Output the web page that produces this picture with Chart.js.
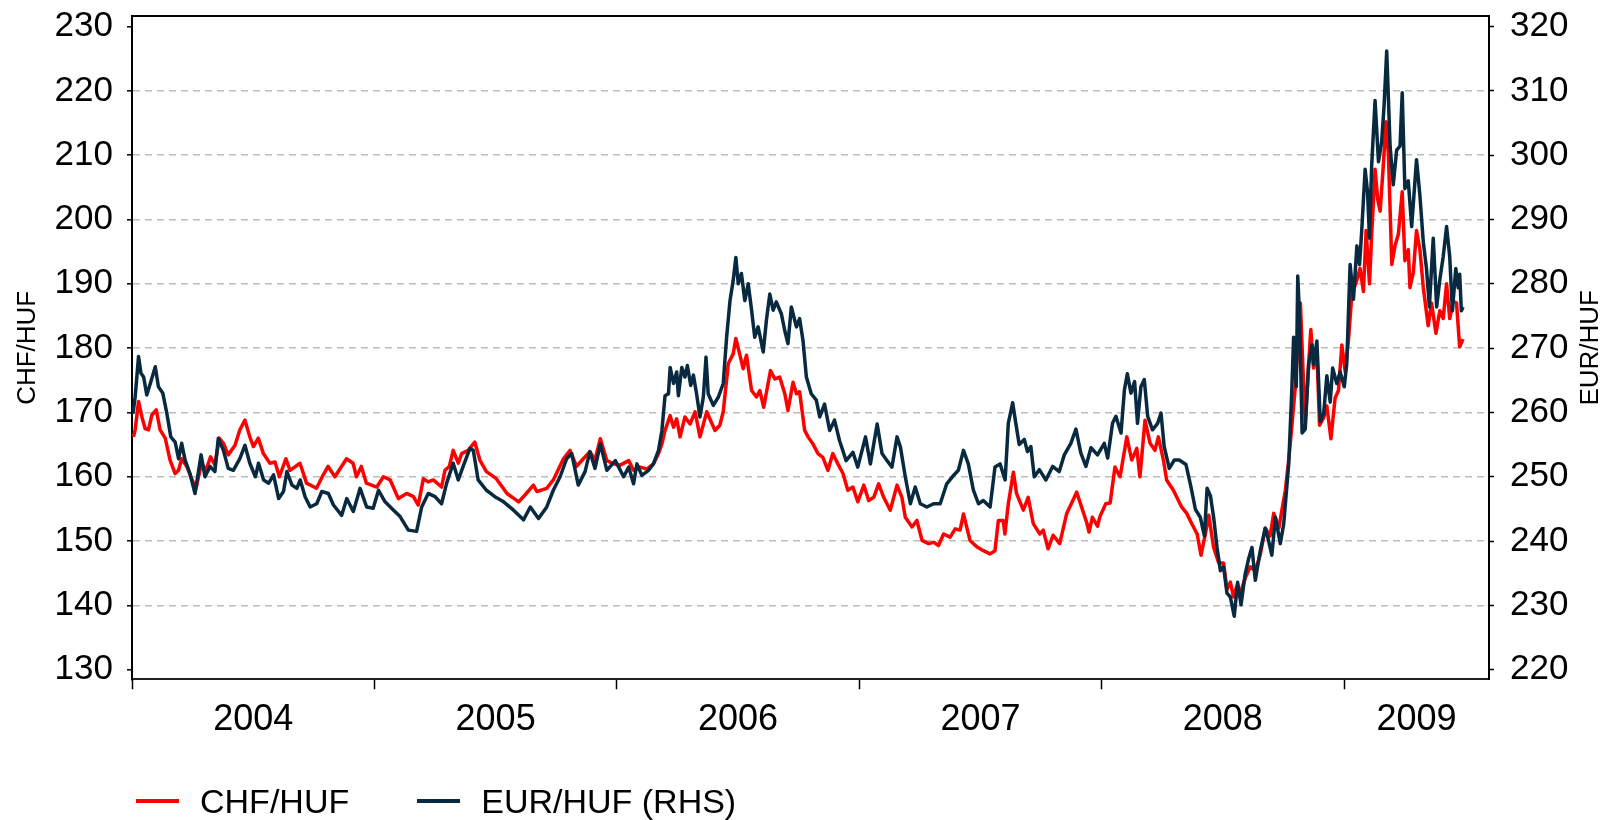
<!DOCTYPE html>
<html>
<head>
<meta charset="utf-8">
<title>CHF/HUF and EUR/HUF</title>
<script src="https://cdn.jsdelivr.net/npm/chart.js@4.4.1/dist/chart.umd.min.js"></script>
<style>
    body { margin: 0; background: #fff; }
    #wrap { position: relative; width: 1605px; height: 820px; }
    #legend {
        position: absolute; left: 136px; top: 781px; height: 40px;
        display: flex; align-items: center; gap: 68px;
        font-family: "Liberation Sans", Arial, sans-serif; font-size: 34px; color: #000;
    }
    .item { display: flex; align-items: center; gap: 21px; }
    .swatch { width: 43px; height: 4px; }
</style>
</head>
<body>
<div id="wrap">
    <canvas id="fxChart" width="1605" height="820"></canvas>
    <div id="legend"></div>
</div>
<script>
// Axis labels
const years = [2004, 2005, 2006, 2007, 2008, 2009];
const yearLabels = ["2004", "2005", "2006", "2007", "2008", "2009"];
const xEnd = 2009.598; // axis runs to early August 2009
const leftTicks = [130, 140, 150, 160, 170, 180, 190, 200, 210, 220, 230];
const rightTicks = [220, 230, 240, 250, 260, 270, 280, 290, 300, 310, 320];
const leftTitle = "CHF/HUF";
const rightTitle = "EUR/HUF";

// CHF/HUF (left axis) - dates as fractional years
const chfDates = [
    2004.006, 2004.013, 2004.027, 2004.041, 2004.054, 2004.068, 2004.082, 2004.100, 2004.116, 2004.137,
    2004.157, 2004.178, 2004.192, 2004.205, 2004.226, 2004.246, 2004.264, 2004.287, 2004.305, 2004.324,
    2004.342, 2004.360, 2004.377, 2004.397, 2004.425, 2004.445, 2004.466, 2004.486, 2004.501, 2004.521,
    2004.542, 2004.569, 2004.590, 2004.608, 2004.635, 2004.652, 2004.693, 2004.720, 2004.761, 2004.789,
    2004.809, 2004.837, 2004.885, 2004.912, 2004.926, 2004.946, 2004.967, 2005.010, 2005.037, 2005.065,
    2005.099, 2005.133, 2005.161, 2005.181, 2005.202, 2005.222, 2005.243, 2005.277, 2005.291, 2005.309,
    2005.325, 2005.346, 2005.360, 2005.387, 2005.414, 2005.435, 2005.462, 2005.503, 2005.547, 2005.595,
    2005.622, 2005.656, 2005.670, 2005.711, 2005.738, 2005.780, 2005.807, 2005.834, 2005.862, 2005.889,
    2005.910, 2005.932, 2005.959, 2005.987, 2006.014, 2006.049, 2006.069, 2006.096, 2006.124, 2006.151,
    2006.172, 2006.186, 2006.199, 2006.220, 2006.234, 2006.247, 2006.261, 2006.281, 2006.302, 2006.323,
    2006.343, 2006.371, 2006.405, 2006.425, 2006.439, 2006.460, 2006.480, 2006.491, 2006.508, 2006.521,
    2006.535, 2006.556, 2006.576, 2006.590, 2006.606, 2006.624, 2006.634, 2006.652, 2006.672, 2006.693,
    2006.706, 2006.727, 2006.741, 2006.754, 2006.775, 2006.789, 2006.809, 2006.830, 2006.850, 2006.871,
    2006.891, 2006.912, 2006.933, 2006.953, 2006.974, 2006.994, 2007.019, 2007.039, 2007.060, 2007.080,
    2007.101, 2007.128, 2007.156, 2007.176, 2007.190, 2007.218, 2007.238, 2007.259, 2007.286, 2007.307,
    2007.327, 2007.348, 2007.375, 2007.396, 2007.416, 2007.430, 2007.457, 2007.485, 2007.512, 2007.540,
    2007.560, 2007.574, 2007.594, 2007.601, 2007.615, 2007.636, 2007.649, 2007.677, 2007.697, 2007.718,
    2007.745, 2007.759, 2007.779, 2007.800, 2007.827, 2007.856, 2007.897, 2007.939, 2007.948, 2007.962,
    2007.983, 2007.993, 2008.017, 2008.035, 2008.055, 2008.076, 2008.104, 2008.124, 2008.145, 2008.158,
    2008.179, 2008.200, 2008.220, 2008.234, 2008.255, 2008.268, 2008.296, 2008.330, 2008.351, 2008.372,
    2008.394, 2008.410, 2008.428, 2008.442, 2008.462, 2008.483, 2008.503, 2008.517, 2008.531, 2008.544,
    2008.558, 2008.572, 2008.592, 2008.613, 2008.634, 2008.654, 2008.675, 2008.695, 2008.710, 2008.731,
    2008.744, 2008.758, 2008.772, 2008.785, 2008.799, 2008.809, 2008.820, 2008.831, 2008.840, 2008.854,
    2008.863, 2008.874, 2008.888, 2008.899, 2008.916, 2008.929, 2008.946, 2008.963, 2008.977, 2008.991,
    2009.005, 2009.018, 2009.032, 2009.053, 2009.066, 2009.080, 2009.091, 2009.105, 2009.114, 2009.128,
    2009.139, 2009.149, 2009.162, 2009.173, 2009.183, 2009.197, 2009.210, 2009.224, 2009.240, 2009.251,
    2009.265, 2009.272, 2009.286, 2009.299, 2009.313, 2009.327, 2009.347, 2009.361, 2009.379, 2009.395,
    2009.409, 2009.423, 2009.436, 2009.450, 2009.464, 2009.477, 2009.491
];
const chfValues = [
    166.2, 167.3, 171.7, 169.3, 167.5, 167.3, 169.6, 170.4, 167.3, 166.0,
    162.6, 160.5, 161.0, 162.8, 161.6, 159.7, 158.2, 162.1, 161.0, 163.1,
    161.8, 166.0, 165.2, 163.4, 164.9, 167.3, 168.8, 166.2, 164.7, 166.0,
    163.6, 162.1, 162.3, 160.0, 162.8, 161.0, 162.1, 159.0, 158.2, 160.3,
    161.6, 160.0, 162.8, 162.1, 160.0, 161.6, 159.0, 158.4, 160.0, 159.5,
    156.6, 157.4, 156.9, 155.6, 159.7, 159.2, 159.5, 158.4, 161.0, 161.6,
    164.1, 162.1, 163.6, 164.1, 165.4, 162.6, 160.8, 159.7, 157.4, 156.1,
    157.2, 158.7, 157.7, 158.2, 159.5, 162.8, 164.1, 161.6, 162.8, 163.9,
    162.6, 165.9, 162.5, 162.0, 161.8, 162.5, 161.0, 161.5, 161.2, 162.0,
    163.6, 165.1, 167.2, 169.5, 167.7, 169.0, 166.2, 169.3, 168.2, 170.1,
    166.2, 170.1, 167.2, 168.0, 170.1, 177.6, 179.1, 181.5, 178.9, 176.8,
    178.9, 173.4, 172.4, 173.4, 170.8, 174.5, 176.5, 175.2, 175.5, 172.9,
    170.3, 174.7, 172.9, 173.2, 167.2, 166.2, 165.1, 163.6, 163.0, 161.0,
    163.6, 162.0, 160.5, 157.9, 158.4, 156.1, 158.7, 156.3, 156.8, 158.9,
    156.8, 154.8, 158.7, 156.8, 153.7, 152.2, 153.2, 150.1, 149.6, 149.8,
    149.3, 151.1, 150.6, 151.9, 151.7, 154.2, 150.1, 149.1, 148.5, 148.0,
    148.5, 153.2, 153.2, 151.1, 155.8, 160.7, 157.4, 154.8, 156.8, 152.7,
    151.1, 151.7, 148.8, 150.9, 149.6, 154.3, 157.6, 152.8, 151.4, 153.7,
    152.3, 153.8, 155.8, 155.9, 161.5, 160.0, 166.2, 162.6, 164.4, 160.0,
    168.8, 165.2, 164.1, 166.2, 162.6, 159.5, 157.9, 155.3, 154.3, 152.7,
    151.1, 147.8, 151.1, 154.0, 149.0, 146.6, 146.6, 142.5, 143.6, 141.3,
    143.0, 141.9, 144.2, 146.0, 145.4, 147.8, 152.0, 150.8, 154.3, 152.0,
    154.9, 157.9, 162.7, 168.0, 174.0, 179.9, 187.0, 176.3, 168.6, 177.5,
    182.9, 176.9, 179.3, 168.0, 169.2, 171.0, 165.9, 172.2, 173.4, 180.5,
    176.3, 181.1, 188.2, 190.6, 192.4, 188.8, 198.3, 190.0, 197.7, 207.8,
    203.1, 201.3, 208.4, 215.2, 210.2, 193.0, 195.9, 197.7, 204.3, 193.6,
    195.3, 189.4, 191.8, 198.3, 195.3, 189.4, 183.5, 187.0, 182.3, 185.8,
    184.6, 190.0, 184.6, 187.3, 187.0, 180.2, 181.4
];

// EUR/HUF (right axis)
const eurDates = [
    2004.004, 2004.013, 2004.027, 2004.037, 2004.048, 2004.061, 2004.078, 2004.096, 2004.109, 2004.127,
    2004.144, 2004.160, 2004.178, 2004.192, 2004.205, 2004.219, 2004.239, 2004.260, 2004.285, 2004.301,
    2004.322, 2004.342, 2004.356, 2004.377, 2004.397, 2004.418, 2004.445, 2004.466, 2004.486, 2004.509,
    2004.522, 2004.543, 2004.564, 2004.584, 2004.605, 2004.625, 2004.639, 2004.660, 2004.680, 2004.694,
    2004.714, 2004.735, 2004.762, 2004.783, 2004.810, 2004.831, 2004.865, 2004.886, 2004.913, 2004.941,
    2004.968, 2004.995, 2005.017, 2005.044, 2005.079, 2005.106, 2005.140, 2005.174, 2005.195, 2005.222,
    2005.250, 2005.277, 2005.298, 2005.325, 2005.346, 2005.366, 2005.394, 2005.408, 2005.428, 2005.462,
    2005.497, 2005.533, 2005.574, 2005.615, 2005.643, 2005.677, 2005.711, 2005.738, 2005.766, 2005.793,
    2005.814, 2005.841, 2005.869, 2005.889, 2005.910, 2005.932, 2005.959, 2005.994, 2006.028, 2006.049,
    2006.069, 2006.083, 2006.103, 2006.131, 2006.151, 2006.172, 2006.186, 2006.199, 2006.213, 2006.220,
    2006.234, 2006.247, 2006.254, 2006.268, 2006.281, 2006.291, 2006.305, 2006.316, 2006.329, 2006.343,
    2006.357, 2006.368, 2006.377, 2006.398, 2006.419, 2006.439, 2006.453, 2006.467, 2006.480, 2006.491,
    2006.501, 2006.514, 2006.528, 2006.542, 2006.556, 2006.569, 2006.583, 2006.604, 2006.617, 2006.631,
    2006.645, 2006.658, 2006.679, 2006.693, 2006.706, 2006.720, 2006.741, 2006.754, 2006.768, 2006.782,
    2006.802, 2006.823, 2006.837, 2006.857, 2006.878, 2006.898, 2006.919, 2006.946, 2006.974, 2006.994,
    2007.026, 2007.046, 2007.074, 2007.094, 2007.115, 2007.135, 2007.156, 2007.170, 2007.190, 2007.211,
    2007.231, 2007.252, 2007.279, 2007.307, 2007.334, 2007.361, 2007.389, 2007.409, 2007.430, 2007.450,
    2007.471, 2007.492, 2007.512, 2007.540, 2007.560, 2007.581, 2007.602, 2007.615, 2007.633, 2007.646,
    2007.660, 2007.681, 2007.694, 2007.708, 2007.722, 2007.743, 2007.770, 2007.798, 2007.825, 2007.846,
    2007.873, 2007.894, 2007.914, 2007.935, 2007.956, 2007.983, 2008.011, 2008.025, 2008.045, 2008.059,
    2008.080, 2008.094, 2008.106, 2008.121, 2008.136, 2008.148, 2008.162, 2008.176, 2008.190, 2008.210,
    2008.231, 2008.245, 2008.258, 2008.279, 2008.300, 2008.320, 2008.348, 2008.368, 2008.387, 2008.407,
    2008.424, 2008.435, 2008.449, 2008.462, 2008.476, 2008.490, 2008.503, 2008.517, 2008.531, 2008.547,
    2008.561, 2008.575, 2008.592, 2008.606, 2008.620, 2008.634, 2008.654, 2008.675, 2008.688, 2008.702,
    2008.717, 2008.737, 2008.751, 2008.772, 2008.785, 2008.792, 2008.803, 2008.809, 2008.817, 2008.827,
    2008.840, 2008.854, 2008.868, 2008.874, 2008.888, 2008.902, 2008.916, 2008.929, 2008.943, 2008.953,
    2008.970, 2008.984, 2009.001, 2009.011, 2009.025, 2009.039, 2009.053, 2009.064, 2009.073, 2009.087,
    2009.097, 2009.105, 2009.114, 2009.128, 2009.142, 2009.155, 2009.165, 2009.176, 2009.190, 2009.203,
    2009.217, 2009.231, 2009.240, 2009.251, 2009.265, 2009.279, 2009.299, 2009.313, 2009.327, 2009.340,
    2009.352, 2009.368, 2009.382, 2009.395, 2009.409, 2009.423, 2009.436, 2009.447, 2009.461, 2009.471,
    2009.477, 2009.484, 2009.491
];
const eurValues = [
    259.8, 262.4, 268.7, 266.1, 265.5, 262.7, 264.8, 267.1, 264.0, 263.0,
    259.8, 256.2, 255.4, 252.8, 255.2, 252.6, 250.5, 247.4, 253.4, 250.0,
    251.6, 250.8, 256.0, 254.1, 251.3, 251.0, 252.8, 254.9, 252.1, 250.0,
    252.1, 249.5, 249.0, 250.3, 246.6, 247.7, 250.8, 248.7, 248.2, 249.5,
    246.9, 245.3, 245.8, 247.7, 247.4, 245.6, 244.0, 246.6, 244.6, 248.2,
    245.3, 245.1, 247.9, 246.1, 244.8, 243.8, 241.7, 241.5, 245.3, 247.4,
    246.9, 245.8, 249.0, 252.1, 249.5, 251.6, 254.4, 254.1, 249.5, 247.9,
    246.9, 246.1, 244.8, 243.3, 245.3, 243.5, 245.3, 247.9, 250.0, 252.8,
    253.6, 248.7, 250.8, 253.9, 251.3, 255.1, 251.0, 252.5, 250.0, 251.5,
    248.9, 252.0, 250.2, 251.0, 252.0, 254.1, 257.2, 262.6, 262.9, 267.0,
    264.5, 266.3, 262.6, 267.0, 265.5, 267.3, 264.2, 265.8, 262.9, 259.3,
    262.4, 268.6, 262.9, 261.1, 262.4, 264.5, 271.7, 277.4, 280.5, 284.1,
    280.0, 281.6, 277.4, 280.0, 275.9, 271.7, 273.3, 269.4, 274.3, 278.4,
    275.9, 277.2, 275.3, 272.7, 270.7, 276.4, 273.3, 274.6, 271.2, 265.5,
    262.9, 261.9, 259.3, 261.3, 257.2, 258.8, 255.6, 252.5, 253.8, 251.5,
    256.2, 252.0, 258.2, 253.6, 252.5, 251.5, 256.2, 254.6, 250.0, 245.8,
    248.4, 245.8, 245.3, 245.8, 245.8, 248.9, 250.2, 251.0, 254.1, 252.0,
    247.9, 245.8, 246.3, 245.3, 251.5, 252.0, 249.5, 258.3, 261.5, 258.3,
    255.0, 255.8, 253.9, 254.7, 250.0, 251.1, 249.5, 251.6, 250.8, 253.4,
    255.2, 257.4, 253.7, 251.6, 254.5, 253.4, 255.2, 252.9, 258.3, 259.4,
    256.8, 263.5, 266.0, 263.0, 264.8, 258.3, 264.0, 265.1, 259.4, 257.3,
    258.3, 259.9, 254.7, 251.3, 252.6, 252.6, 251.9, 248.5, 244.9, 243.7,
    240.8, 248.2, 247.0, 243.7, 239.0, 235.4, 236.0, 231.9, 231.3, 228.3,
    233.6, 230.1, 234.8, 237.2, 239.0, 233.9, 238.4, 242.0, 240.2, 237.8,
    243.7, 239.6, 242.6, 252.1, 264.0, 271.7, 264.0, 281.2, 274.6, 256.8,
    257.4, 267.5, 270.5, 267.5, 271.1, 258.6, 259.8, 265.7, 261.6, 266.9,
    264.5, 266.3, 264.0, 267.5, 283.0, 277.6, 285.9, 283.0, 288.3, 297.8,
    294.3, 287.1, 298.4, 308.5, 299.0, 302.0, 307.6, 316.2, 301.4, 295.4,
    300.8, 301.4, 309.7, 294.8, 296.0, 288.9, 299.3, 293.7, 286.5, 282.4,
    276.4, 287.1, 276.4, 280.6, 284.2, 288.9, 284.2, 275.8, 282.4, 279.4,
    281.5, 275.8, 276.4
];

const red = "#ff0000";
const navy = "#072a40";
const fontFamily = '"Liberation Sans", Arial, sans-serif';

// year labels sit in the middle of each year, tick marks on year boundaries
const labelPos = years.map((y, i) => (y + (i < years.length - 1 ? years[i + 1] : xEnd)) / 2);
const xTicks = years.concat(labelPos);

const chfPoints = chfDates.map((d, i) => ({ x: d, y: chfValues[i] }));
const eurPoints = eurDates.map((d, i) => ({ x: d, y: eurValues[i] }));

function noPadding(scale) {
    scale.paddingTop = 0;
    scale.paddingBottom = 0;
    scale.paddingLeft = 0;
    scale.paddingRight = 0;
}

// Right axis title reads bottom-to-top like the left one
const rightTitlePlugin = {
    id: "rightTitle",
    afterDraw(chart) {
        const s = chart.scales.yRight;
        const c = chart.ctx;
        c.save();
        c.translate(s.right - 14, (s.top + s.bottom) / 2);
        c.rotate(-Math.PI / 2);
        c.font = "26px " + fontFamily;
        c.fillStyle = "#000";
        c.textAlign = "center";
        c.textBaseline = "middle";
        c.fillText(rightTitle, 0, 0);
        c.restore();
    },
};

Chart.defaults.font.family = fontFamily;
Chart.defaults.color = "#000";

const ctx = document.getElementById("fxChart").getContext("2d");
const chart = new Chart(ctx, {
    type: "line",
    data: {
        datasets: [
            {
                label: "EUR/HUF (RHS)",
                data: eurPoints,
                yAxisID: "yRight",
                borderColor: navy,
                borderWidth: 3.5,
                pointRadius: 0,
                borderJoinStyle: "round",
                order: 0,
            },
            {
                label: "CHF/HUF",
                data: chfPoints,
                yAxisID: "y",
                borderColor: red,
                borderWidth: 3.5,
                pointRadius: 0,
                borderJoinStyle: "round",
                order: 1,
            },
        ],
    },
    options: {
        responsive: false,
        animation: false,
        layout: { padding: { top: 16.3, left: 0, right: 0, bottom: 0 } },
        plugins: { legend: { display: false }, tooltip: { enabled: false } },
        scales: {
            x: {
                type: "linear",
                position: "bottom",
                min: 2004,
                max: xEnd,
                afterBuildTicks: (axis) => { axis.ticks = xTicks.map((v) => ({ value: v })); },
                afterFit: (axis) => { axis.height = 140.7; noPadding(axis); },
                ticks: {
                    autoSkip: false,
                    maxRotation: 0,
                    padding: 9,
                    font: { size: 36 },
                    callback: (v) => {
                        const i = labelPos.indexOf(v);
                        return i >= 0 ? yearLabels[i] : "";
                    },
                },
                grid: {
                    drawOnChartArea: false,
                    tickLength: 10,
                    tickWidth: 1.5,
                    tickColor: (c) => (years.includes(c.tick.value) ? "#000" : "rgba(0,0,0,0)"),
                },
                border: { color: "#222", width: 2 },
            },
            xTop: {
                type: "linear",
                position: "top",
                min: 2004,
                max: xEnd,
                ticks: { display: false },
                grid: { display: false },
                border: { color: "#000", width: 2 },
                afterFit: (axis) => { axis.height = 0; noPadding(axis); },
            },
            y: {
                position: "left",
                min: 128.5,
                max: 231.6,
                afterBuildTicks: (axis) => { axis.ticks = leftTicks.map((v) => ({ value: v })); },
                afterFit: (axis) => { axis.width = 132; noPadding(axis); },
                ticks: { padding: 14, font: { size: 35 } },
                grid: {
                    color: (c) => (c.tick.value === 130 || c.tick.value === 230 ? "rgba(0,0,0,0)" : "#bdbdbd"),
                    lineWidth: 1.6,
                    tickLength: 5,
                    tickWidth: 1.5,
                    tickColor: "#000",
                    tickBorderDash: [],
                },
                border: { color: "#000", width: 2, dash: [7, 5] },
                title: {
                    display: true,
                    text: leftTitle,
                    font: { size: 26 },
                    padding: { top: 12, bottom: 0 },
                },
            },
            yRight: {
                position: "right",
                min: 218.5,
                max: 321.6,
                afterBuildTicks: (axis) => { axis.ticks = rightTicks.map((v) => ({ value: v })); },
                afterFit: (axis) => { axis.width = 116; noPadding(axis); },
                ticks: { padding: 16, font: { size: 35 } },
                grid: {
                    drawOnChartArea: false,
                    tickLength: 5,
                    tickWidth: 1.5,
                    tickColor: "#000",
                },
                border: { color: "#000", width: 2 },
            },
        },
    },
    plugins: [rightTitlePlugin],
});

// HTML legend, CHF first as in the original
const legendEl = document.getElementById("legend");
["CHF/HUF", "EUR/HUF (RHS)"].forEach((name) => {
    const ds = chart.data.datasets.find((d) => d.label === name);
    const item = document.createElement("div");
    item.className = "item";
    const sw = document.createElement("span");
    sw.className = "swatch";
    sw.style.background = ds.borderColor;
    const txt = document.createElement("span");
    txt.textContent = ds.label;
    item.appendChild(sw);
    item.appendChild(txt);
    legendEl.appendChild(item);
});
</script>
</body>
</html>
